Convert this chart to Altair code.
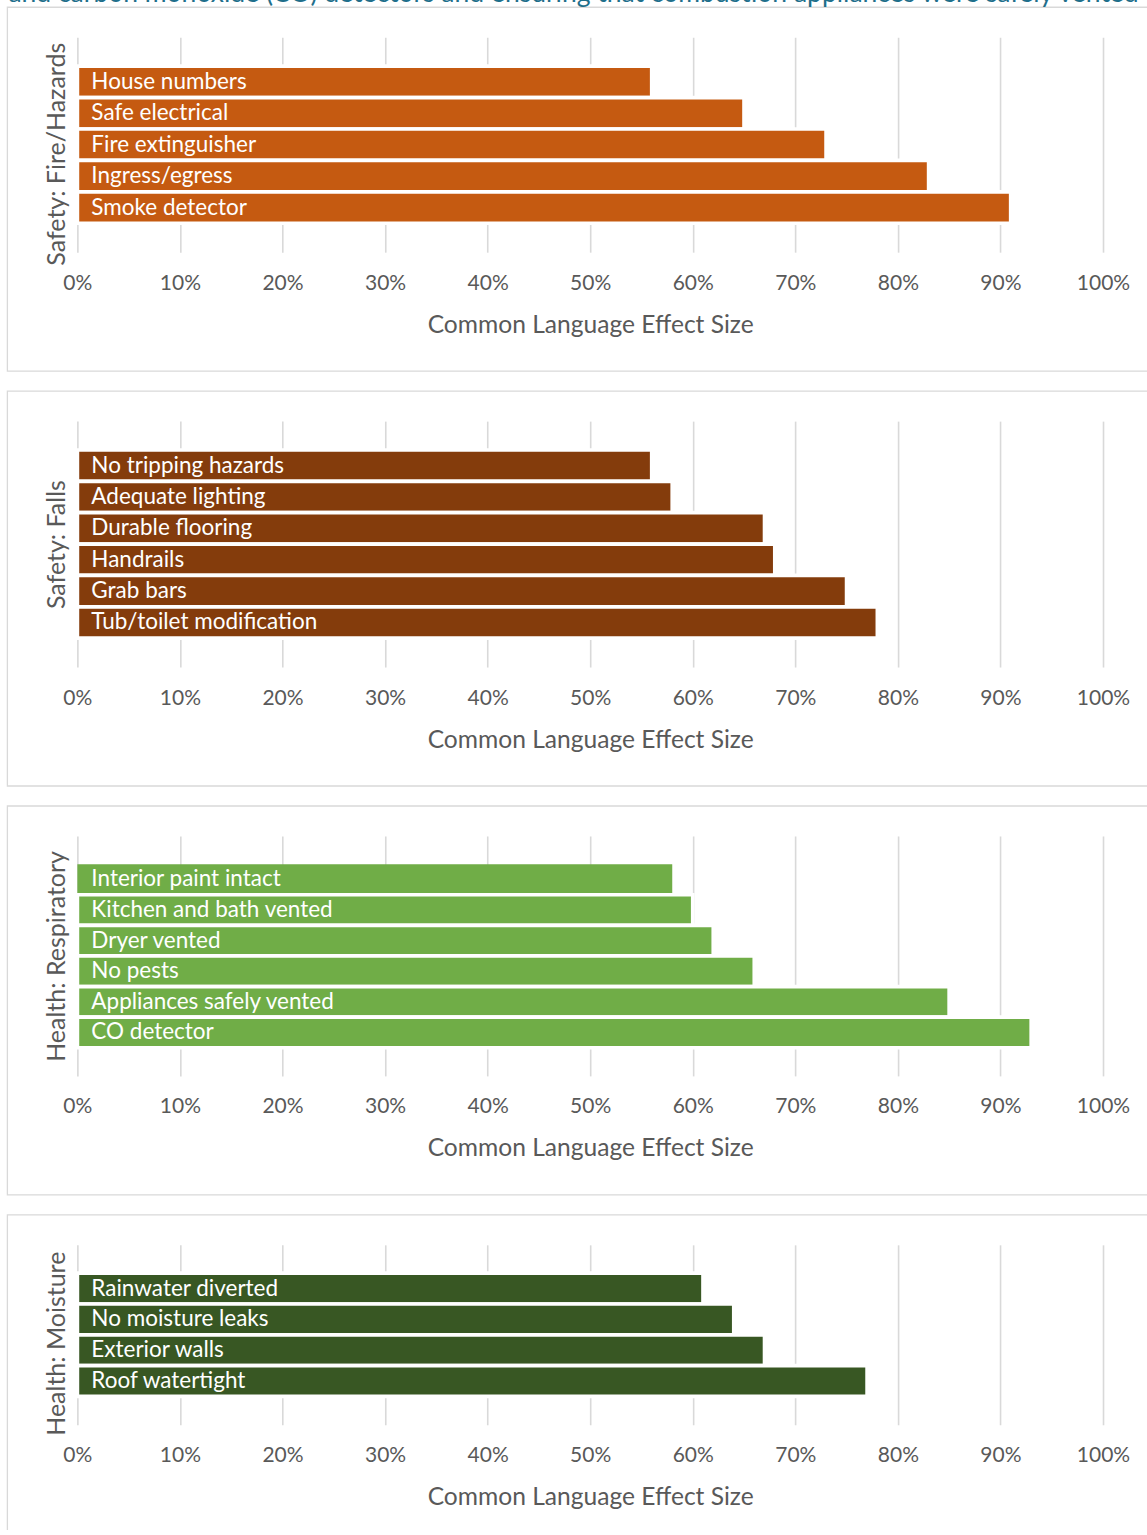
import altair as alt
import pandas as pd

FONT = "Lato"
GRAY = "#595959"
GRID = "#D9D9D9"

TOP_NOTE = "and carbon monoxide (CO) detectors and ensuring that combustion appliances were safely vented"
X_TITLE = "Common Language Effect Size"
TICK_VALUES = [0, 0.1, 0.2, 0.3, 0.4, 0.5, 0.6, 0.7, 0.8, 0.9, 1.0]

fire_title = "Safety: Fire/Hazards"
fire_items = ["House numbers", "Safe electrical", "Fire extinguisher", "Ingress/egress", "Smoke detector"]
fire_values = [0.56, 0.65, 0.73, 0.83, 0.91]

falls_title = "Safety: Falls"
falls_items = ["No tripping hazards", "Adequate lighting", "Durable flooring", "Handrails",
               "Grab bars", "Tub/toilet modification"]
falls_values = [0.56, 0.58, 0.67, 0.68, 0.75, 0.78]

resp_title = "Health: Respiratory"
resp_items = ["Interior paint intact", "Kitchen and bath vented", "Dryer vented", "No pests",
              "Appliances safely vented", "CO detector"]
resp_values = [0.58, 0.60, 0.62, 0.66, 0.85, 0.93]

moist_title = "Health: Moisture"
moist_items = ["Rainwater diverted", "No moisture leaks", "Exterior walls", "Roof watertight"]
moist_values = [0.61, 0.64, 0.67, 0.77]


def panel(title, items, values, color, height, title_y=None, note=None, unstroked=None):
    df = pd.DataFrame({"item": items, "value": values})
    y_axis_kw = dict(title=title, labels=False, ticks=False, tickSize=0, domain=False, grid=False,
                     titleFont=FONT, titleFontSize=25, titleFontWeight="normal", titleColor=GRAY,
                     titlePadding=8, titleLimit=600)
    if title_y is not None:
        y_axis_kw["titleY"] = title_y
    y = alt.Y("item:N", sort=items,
              scale=alt.Scale(paddingInner=0, paddingOuter=0.92),
              axis=alt.Axis(**y_axis_kw))
    x = alt.X("value:Q",
              scale=alt.Scale(domain=[0, 1], nice=False, zero=True),
              axis=alt.Axis(values=TICK_VALUES, format=".0%", grid=True, gridColor=GRID, gridWidth=1.6,
                            ticks=False, tickSize=0, domain=False, labelFlush=False,
                            labelFont=FONT, labelFontSize=21, labelColor=GRAY, labelPadding=20,
                            title=X_TITLE, titleFont=FONT, titleFontSize=24.6, titleFontWeight="normal",
                            titleColor=GRAY, titlePadding=20))
    if unstroked:
        sw = alt.condition(alt.FieldOneOfPredicate(field="item", oneOf=unstroked),
                           alt.value(0), alt.value(3.7))
    else:
        sw = alt.value(3.7)
    bars = alt.Chart(df).mark_bar(color=color, stroke="white").encode(x=x, y=y, strokeWidth=sw)
    labels = alt.Chart(df).mark_text(align="left", baseline="middle", dx=14, color="white",
                                     font=FONT, fontSize=22.5).encode(
        x=alt.datum(0), y=y, text="item:N")
    border = alt.Chart(alt.Data(values=[{"b": 1}])).mark_rect(
        filled=False, stroke=GRID, strokeWidth=1.3).encode(
        x=alt.value(-70), x2=alt.value(1075), y=alt.value(-30), y2=alt.value(height + 119))
    layers = [border, bars, labels]
    if note:
        txt = alt.Chart(alt.Data(values=[{"t": note}])).mark_text(
            align="left", baseline="alphabetic", font=FONT, fontSize=26.5, color="#1F6F8B",
            limit=1140, ellipsis="").encode(
            x=alt.value(-69), y=alt.value(-35), text="t:N")
        layers.append(txt)
    return alt.layer(*layers).properties(
        width=1026, height=height,
        view=alt.ViewBackground(stroke="transparent", strokeWidth=0),
    )


p1 = panel(fire_title, fire_items, fire_values, "#C55A11", 215, title_y=116.5, note=TOP_NOTE)
p2 = panel(falls_title, falls_items, falls_values, "#843C0C", 246)
p3 = panel(resp_title, resp_items, resp_values, "#70AD47", 240, unstroked=["Interior paint intact"])
p4 = panel(moist_title, moist_items, moist_values, "#385723", 180, title_y=98.4)

chart = alt.vconcat(p1, p2, p3, p4, spacing=18).properties(
    padding={"left": 6.4, "top": -19, "right": -6, "bottom": -15},
    background="white",
).configure_view(stroke="transparent", strokeWidth=0).configure(font=FONT)

chart.save("out.html", embed_options={"renderer": "svg", "actions": False})
